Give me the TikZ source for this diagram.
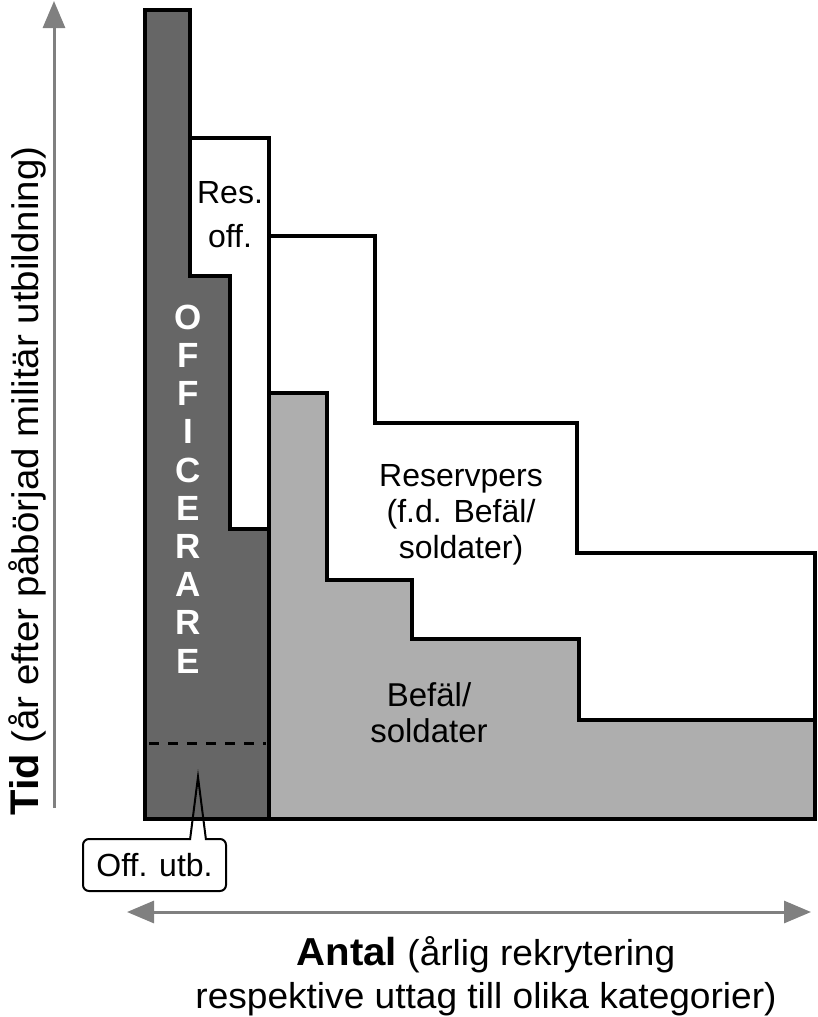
\documentclass[tikz,border=0pt]{standalone}
\usepackage{fontspec}
\setmainfont{Liberation Sans}
\newfontfamily\widefont[FakeStretch=1.03]{Liberation Sans}
\newfontfamily\rotfont[FakeStretch=1.04]{Liberation Sans}
\usetikzlibrary{arrows.meta}
\definecolor{darkfill}{HTML}{666666}
\definecolor{lightfill}{HTML}{AEAEAE}
\definecolor{axisgray}{HTML}{808080}
\tikzset{
  region/.style={draw=black, line width=4pt, line join=miter},
  axisline/.style={draw=axisgray, line width=3pt, -{Triangle[length=27pt,width=22pt]}},
  lbl/.style={inner sep=0pt, align=center, font={\fontsize{32}{36}\selectfont}},
  offtext/.style={inner sep=0pt, align=center, text=white, font={\fontsize{35}{38.2}\selectfont\bfseries}},
  axistext/.style={inner sep=0pt, font={\widefont\fontsize{36}{43}\selectfont}},
  rottext/.style={inner sep=0pt, font={\rotfont\fontsize{37}{43}\selectfont}},
  calloutbox/.style={draw=black, line width=2pt, fill=white, rounded corners=6pt, minimum width=143pt, minimum height=52pt, inner sep=0pt, font={\fontsize{32}{36}\selectfont}}
}
\begin{document}
\begin{tikzpicture}[x=1pt,y=-1pt]
\useasboundingbox (0,0) rectangle (817,1017);
% white reserve region
\path[region, fill=white] (269,236) -- (375,236) -- (375,423) -- (577,423) -- (577,553) -- (815,553) -- (815,819) -- (269,819) -- cycle;
% gray region
\path[region, fill=lightfill] (269,393) -- (327,393) -- (327,580) -- (412,580) -- (412,639) -- (579,639) -- (579,720) -- (815,720) -- (815,819) -- (269,819) -- cycle;
% res off region
\path[region, fill=white] (190,138) -- (269,138) -- (269,529) -- (230,529) -- (230,276) -- (190,276) -- cycle;
% dark officer region
\path[region, fill=darkfill] (145,10) -- (190,10) -- (190,276) -- (230,276) -- (230,529) -- (269,529) -- (269,819) -- (145,819) -- cycle;
% dashed line
\coordinate (dl) at (149,743);
\coordinate (dr) at (266,743);
\draw[line width=3pt, dash pattern=on 10pt off 9pt] (dl) -- (dr);
% labels
\node[offtext] (offic) at (188,489) {O\\F\\F\\I\\C\\E\\R\\A\\R\\E};
\node[lbl] (resoff) at (230,214.5) {Res.\\[8pt]off.};
\node[lbl] (reserv) at (461,514.5) {Reservpers\\(f.d. Befäl/\\soldater)};
\node[lbl, font={\fontsize{33}{36}\selectfont}] (befal) at (429,713) {Befäl/\\soldater};
% callout
\node[calloutbox] (offutb) at (154.5,865) {Off. utb.};
\coordinate (tip) at (198,777);
\coordinate (bl) at (190,840);
\coordinate (br) at (206,840);
\fill[white] (192.3,822) -- (203.7,822) -- (206,841) -- (190,841) -- cycle;
\draw[line width=2pt, line join=miter] (bl) -- (tip) -- (br);
% axes
\coordinate (yb) at (54,808);
\coordinate (yt) at (54,1);
\draw[axisline] (yb) -- (yt);
\coordinate (xl) at (127,912);
\coordinate (xr) at (811,912);
\draw[axisline, {Triangle[length=27pt,width=22pt]}-{Triangle[length=27pt,width=22pt]}] (xl) -- (xr);
% axis titles
\node[axistext, anchor=base] (antal) at (486,965) {{\fontsize{39}{43}\selectfont\bfseries Antal} (årlig rekrytering};
\node[axistext, anchor=base] (antal2) at (486,1008) {respektive uttag till olika kategorier)};
\node[rottext, anchor=base, rotate=90] (tid) at (38,481) {{\fontsize{40}{43}\selectfont\bfseries Tid} (år efter påbörjad militär utbildning)};
\end{tikzpicture}
\end{document}
